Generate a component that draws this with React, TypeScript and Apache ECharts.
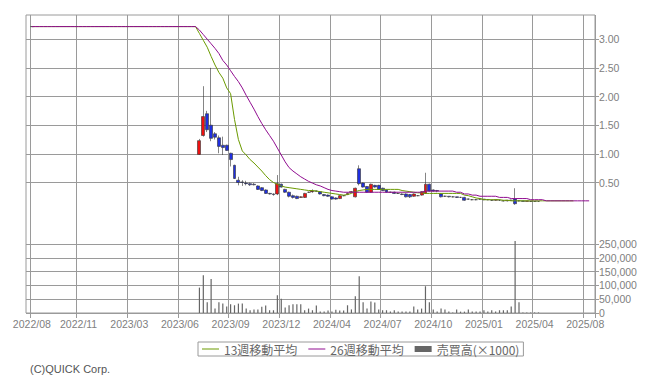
import React, { useEffect, useRef } from "react";
import * as echarts from "echarts";

// ---- data (weekly) ----
const TOTAL_WEEKS = 146;
const START_INDEX = 44; // first traded week after the flat section
const TICK_INDEX = [1, 13, 26, 39, 52, 65, 78, 91, 104, 117, 130, 143];
const TICK_LABELS = [
  "2022/08", "2022/11", "2023/03", "2023/06", "2023/09", "2023/12",
  "2024/04", "2024/07", "2024/10", "2025/01", "2025/04", "2025/08",
];

const FIRST_CANDLE_INDEX = 1;
const FIRST_CANDLE = [3.22, 3.22, 3.22, 3.22];

// [open, close, low, high], weeks 44..131
const CANDLES = [
  [0.99, 1.23, 0.98, 1.26], [1.32, 1.65, 1.30, 2.18], [1.70, 1.42, 1.38, 1.75], [1.50, 1.27, 1.22, 2.50],
  [1.35, 1.29, 1.25, 1.38], [1.28, 1.13, 1.01, 1.32], [1.15, 1.11, 0.98, 1.30], [1.15, 1.06, 1.05, 1.16],
  [1.01, 0.90, 0.78, 1.02], [0.80, 0.57, 0.56, 0.81], [0.54, 0.50, 0.45, 0.60], [0.51, 0.50, 0.44, 0.54],
  [0.49, 0.48, 0.45, 0.53], [0.48, 0.46, 0.44, 0.50], [0.47, 0.46, 0.45, 0.49], [0.44, 0.38, 0.37, 0.45],
  [0.41, 0.36, 0.35, 0.42], [0.37, 0.31, 0.30, 0.38], [0.31, 0.30, 0.29, 0.32], [0.30, 0.29, 0.27, 0.31],
  [0.30, 0.48, 0.28, 0.63], [0.47, 0.42, 0.41, 0.48], [0.38, 0.33, 0.32, 0.39], [0.33, 0.26, 0.24, 0.34],
  [0.27, 0.24, 0.22, 0.29], [0.26, 0.22, 0.21, 0.27], [0.24, 0.25, 0.23, 0.26], [0.24, 0.31, 0.23, 0.32],
  [0.33, 0.33, 0.32, 0.34], [0.34, 0.35, 0.32, 0.38], [0.35, 0.35, 0.34, 0.36], [0.34, 0.30, 0.29, 0.35],
  [0.29, 0.27, 0.26, 0.30], [0.28, 0.26, 0.25, 0.29], [0.25, 0.21, 0.20, 0.26], [0.23, 0.21, 0.20, 0.24],
  [0.22, 0.27, 0.21, 0.28], [0.27, 0.27, 0.26, 0.28], [0.29, 0.31, 0.28, 0.33], [0.33, 0.34, 0.32, 0.35],
  [0.25, 0.40, 0.24, 0.41], [0.74, 0.48, 0.45, 0.80], [0.49, 0.42, 0.41, 0.50], [0.43, 0.33, 0.32, 0.44],
  [0.33, 0.47, 0.32, 0.48], [0.45, 0.42, 0.41, 0.46], [0.45, 0.38, 0.37, 0.46], [0.40, 0.36, 0.35, 0.41],
  [0.37, 0.33, 0.32, 0.38], [0.33, 0.33, 0.32, 0.34], [0.33, 0.31, 0.30, 0.34], [0.31, 0.31, 0.30, 0.32],
  [0.30, 0.29, 0.28, 0.31], [0.30, 0.25, 0.24, 0.31], [0.29, 0.25, 0.23, 0.30], [0.26, 0.30, 0.25, 0.31],
  [0.27, 0.27, 0.26, 0.28], [0.28, 0.34, 0.27, 0.35], [0.31, 0.47, 0.30, 0.67], [0.47, 0.35, 0.34, 0.48],
  [0.37, 0.35, 0.34, 0.38], [0.36, 0.35, 0.33, 0.37], [0.30, 0.25, 0.24, 0.31], [0.26, 0.26, 0.25, 0.27],
  [0.26, 0.25, 0.24, 0.26], [0.25, 0.25, 0.24, 0.26], [0.25, 0.24, 0.23, 0.25], [0.24, 0.24, 0.23, 0.25],
  [0.24, 0.19, 0.18, 0.25], [0.21, 0.21, 0.20, 0.22], [0.20, 0.20, 0.19, 0.21], [0.20, 0.20, 0.19, 0.21],
  [0.21, 0.21, 0.20, 0.22], [0.21, 0.20, 0.19, 0.21], [0.20, 0.20, 0.19, 0.21], [0.19, 0.19, 0.18, 0.20],
  [0.19, 0.20, 0.18, 0.20], [0.19, 0.19, 0.18, 0.20], [0.18, 0.18, 0.17, 0.19], [0.18, 0.19, 0.17, 0.19],
  [0.19, 0.19, 0.18, 0.20], [0.21, 0.13, 0.11, 0.40], [0.18, 0.18, 0.17, 0.19], [0.18, 0.17, 0.17, 0.18],
  [0.17, 0.18, 0.17, 0.18], [0.17, 0.17, 0.16, 0.18], [0.17, 0.17, 0.16, 0.17], [0.17, 0.17, 0.16, 0.17],
];

// volume (x1000), weeks 44..131
const VOLUME = [
  92000, 137000, 39000, 123000, 16000, 39000, 34000, 24000, 32000, 28000,
  34000, 34000, 16000, 10000, 13000, 13000, 23000, 27000, 10000, 10000,
  64000, 52000, 20000, 28000, 32000, 32000, 32000, 10000, 16000, 10000,
  27000, 5000, 5000, 9000, 5000, 12000, 9000, 9000, 28000, 13000,
  61000, 133000, 39000, 16000, 42000, 38000, 13000, 10000, 10000, 5000,
  10000, 5000, 5000, 5000, 5000, 24000, 13000, 16000, 97000, 39000,
  13000, 5000, 16000, 13000, 5000, 2000, 13000, 5000, 5000, 13000,
  5000, 5000, 5000, 10000, 5000, 10000, 5000, 10000, 10000, 10000,
  24000, 261000, 39000, 2000, 2000, 2000, 2000, 2000,
];

// 13-week moving average, weeks 0..140
const MA13 = [
  null,
  3.22, 3.22, 3.22, 3.22, 3.22, 3.22, 3.22, 3.22, 3.22, 3.22,
  3.22, 3.22, 3.22, 3.22, 3.22, 3.22, 3.22, 3.22, 3.22, 3.22,
  3.22, 3.22, 3.22, 3.22, 3.22, 3.22, 3.22, 3.22, 3.22, 3.22,
  3.22, 3.22, 3.22, 3.22, 3.22, 3.22, 3.22, 3.22, 3.22, 3.22,
  3.22, 3.22, 3.22,
  3.10, 2.98, 2.86, 2.70, 2.55, 2.42, 2.32, 2.15, 2.05, 1.60,
  1.25, 1.05, 0.98, 0.90, 0.84, 0.77, 0.70, 0.62, 0.55, 0.50,
  0.47, 0.44, 0.42, 0.41, 0.40, 0.39, 0.38, 0.37, 0.36, 0.36,
  0.35, 0.34, 0.33, 0.32, 0.31, 0.30, 0.29, 0.28, 0.29, 0.31,
  0.34, 0.36, 0.37, 0.38, 0.38, 0.38, 0.38, 0.38, 0.38, 0.38,
  0.38, 0.38, 0.36, 0.35, 0.34, 0.33, 0.32, 0.32, 0.31, 0.31,
  0.31, 0.31, 0.31, 0.31, 0.31, 0.31, 0.31, 0.31, 0.28, 0.27,
  0.25, 0.23, 0.22, 0.20, 0.20, 0.20, 0.20, 0.20, 0.19, 0.19,
  0.18, 0.18, 0.18, 0.18, 0.18, 0.18, 0.18, 0.18, 0.18, 0.18,
  0.18, 0.18, 0.18, 0.18, 0.18, 0.18, 0.18,
];

// 26-week moving average, weeks 0..144
const MA26 = [
  null,
  3.22, 3.22, 3.22, 3.22, 3.22, 3.22, 3.22, 3.22, 3.22, 3.22,
  3.22, 3.22, 3.22, 3.22, 3.22, 3.22, 3.22, 3.22, 3.22, 3.22,
  3.22, 3.22, 3.22, 3.22, 3.22, 3.22, 3.22, 3.22, 3.22, 3.22,
  3.22, 3.22, 3.22, 3.22, 3.22, 3.22, 3.22, 3.22, 3.22, 3.22,
  3.22, 3.22, 3.22,
  3.16, 3.08, 3.00, 2.92, 2.84, 2.75, 2.63, 2.55, 2.45, 2.35,
  2.26, 2.15, 2.02, 1.90, 1.78, 1.65, 1.53, 1.42, 1.32, 1.22,
  1.10, 0.98, 0.86, 0.76, 0.70, 0.65, 0.60, 0.56, 0.52, 0.49,
  0.46, 0.44, 0.41, 0.38, 0.36, 0.35, 0.34,
  0.33, 0.33, 0.33, 0.33, 0.33, 0.33, 0.33, 0.33, 0.33, 0.33,
  0.33, 0.33, 0.33, 0.33, 0.33, 0.33, 0.33, 0.33, 0.33, 0.33, 0.33,
  0.35, 0.35, 0.35, 0.35, 0.35, 0.35, 0.35, 0.35,
  0.33, 0.33, 0.30, 0.30, 0.28, 0.28,
  0.26, 0.26, 0.26, 0.26, 0.26, 0.24, 0.24, 0.24,
  0.22, 0.22, 0.22, 0.22, 0.22, 0.20, 0.20, 0.20, 0.20,
  0.18, 0.18, 0.18, 0.18, 0.18, 0.18, 0.18, 0.18, 0.18, 0.18, 0.18, 0.18,
];

const NAME_MA13 = "13週移動平均";
const NAME_MA26 = "26週移動平均";
const NAME_VOL = "売買高(×1000)";

const CATEGORIES = Array.from({ length: TOTAL_WEEKS }, (_, i) => {
  const d = new Date(Date.UTC(2022, 6, 25 + 7 * i));
  return `${d.getUTCFullYear()}/${String(d.getUTCMonth() + 1).padStart(2, "0")}/${String(d.getUTCDate()).padStart(2, "0")}`;
});

const GRID_COLOR = "#9a9a9a";
const LABEL_COLOR = "#808080";
const AXIS_FONT = "Liberation Sans";
const COLOR_MA13 = "#6b9a00";
const COLOR_MA26 = "#900c90";
// thin horizontal line icon inside a 17x6 legend box
const LINE_ICON = "path://M0,0M0,2.5L17,2.5L17,3.5L0,3.5ZM17,6";

function App() {
  const ref = useRef<HTMLDivElement>(null);

  useEffect(() => {
    if (!ref.current) return;
    const chart = echarts.init(ref.current, undefined, { renderer: "svg" });

    const candleData = CATEGORIES.map((_, i) => {
      if (i === FIRST_CANDLE_INDEX) return FIRST_CANDLE;
      const k = i - START_INDEX;
      return k >= 0 && k < CANDLES.length ? CANDLES[k] : "-";
    });
    const volumeData = CATEGORIES.map((_, i) => {
      const k = i - START_INDEX;
      return k >= 0 && k < VOLUME.length ? VOLUME[k] : "-";
    });
    const isTick = (i: number) => TICK_INDEX.indexOf(i) >= 0;

    const hiddenX = (gridIndex: number) => ({
      type: "category",
      gridIndex,
      data: CATEGORIES,
      boundaryGap: true,
      show: false,
    });

    const option: any = {
      animation: false,
      backgroundColor: "#ffffff",
      title: {
        text: "(C)QUICK Corp.",
        left: 30,
        top: 363,
        padding: 0,
        textStyle: { fontSize: 11, fontWeight: "normal", color: "#555", fontFamily: AXIS_FONT },
      },
      legend: {
        left: 198,
        top: 342,
        padding: [1, 4, 1, 4],
        borderColor: GRID_COLOR,
        borderWidth: 1,
        itemGap: 11,
        itemWidth: 17,
        itemHeight: 6,
        selectedMode: false,
        textStyle: { fontSize: 12, color: "#666", fontFamily: "Noto Sans CJK JP" },
        data: [
          { name: NAME_MA13, icon: LINE_ICON, itemStyle: { color: COLOR_MA13 } },
          { name: NAME_MA26, icon: LINE_ICON, itemStyle: { color: COLOR_MA26 } },
          { name: NAME_VOL, icon: "rect" },
        ],
      },
      grid: [
        { left: 26, top: 15, width: 569, height: 167.5, show: false },
        { left: 26, top: 244, width: 569, height: 69, show: false },
        { left: 26, top: 15, width: 569, height: 298, show: true, borderColor: GRID_COLOR, borderWidth: 1, backgroundColor: "transparent" },
      ],
      xAxis: [
        hiddenX(0),
        hiddenX(1),
        {
          type: "category",
          gridIndex: 2,
          data: CATEGORIES,
          boundaryGap: true,
          position: "bottom",
          axisLine: { show: false },
          axisTick: { show: true, interval: (i: number) => isTick(i), length: 5, lineStyle: { color: GRID_COLOR } },
          axisLabel: {
            interval: (i: number) => isTick(i),
            formatter: (_v: string, i: number) => TICK_LABELS[TICK_INDEX.indexOf(i)] ?? "",
            color: LABEL_COLOR,
            fontSize: 10.5,
            lineHeight: 10,
            fontFamily: AXIS_FONT,
            margin: 6,
          },
          splitLine: { show: true, interval: (i: number) => isTick(i), lineStyle: { color: GRID_COLOR, width: 1 } },
        },
      ],
      yAxis: [
        {
          type: "value",
          gridIndex: 0,
          position: "right",
          min: 0.5,
          max: 3.422,
          interval: 0.5,
          axisLine: { show: false },
          axisTick: { show: true, length: 4, lineStyle: { color: GRID_COLOR } },
          axisLabel: {
            color: LABEL_COLOR,
            fontSize: 10.5,
            lineHeight: 10,
            fontFamily: AXIS_FONT,
            margin: 4,
            showMaxLabel: false,
            formatter: (v: number) => (v > 3.01 ? "" : v.toFixed(2)),
          },
          splitLine: { show: true, showMaxLine: false, lineStyle: { color: GRID_COLOR, width: 1 } },
        },
        {
          type: "value",
          gridIndex: 1,
          position: "right",
          min: 0,
          max: 250000,
          interval: 50000,
          axisLine: { show: false },
          axisTick: { show: true, length: 4, lineStyle: { color: GRID_COLOR } },
          axisLabel: {
            color: LABEL_COLOR,
            fontSize: 10.5,
            lineHeight: 10,
            fontFamily: AXIS_FONT,
            margin: 4,
            formatter: (v: number) => String(Math.round(v)).replace(/\B(?=(\d{3})+(?!\d))/g, ","),
          },
          splitLine: { show: true, lineStyle: { color: GRID_COLOR, width: 1 } },
        },
        { type: "value", gridIndex: 2, show: false, min: 0, max: 1 },
      ],
      series: [
        {
          type: "candlestick",
          name: "株価",
          xAxisIndex: 0,
          yAxisIndex: 0,
          data: candleData,
          barWidth: 3.4,
          clip: false,
          itemStyle: {
            color: "#ee1111",
            color0: "#1f2fe0",
            borderColor: "#333333",
            borderColor0: "#333333",
            borderWidth: 0.6,
          },
          z: 3,
        },
        {
          type: "line",
          name: NAME_MA13,
          xAxisIndex: 0,
          yAxisIndex: 0,
          data: MA13,
          symbol: "none",
          clip: false,
          lineStyle: { color: COLOR_MA13, width: 1 },
          itemStyle: { color: COLOR_MA13 },
          z: 4,
        },
        {
          type: "line",
          name: NAME_MA26,
          xAxisIndex: 0,
          yAxisIndex: 0,
          data: MA26,
          symbol: "none",
          clip: false,
          lineStyle: { color: COLOR_MA26, width: 1 },
          itemStyle: { color: COLOR_MA26 },
          z: 4,
        },
        {
          type: "bar",
          name: NAME_VOL,
          xAxisIndex: 1,
          yAxisIndex: 1,
          data: volumeData,
          barWidth: 1.2,
          clip: false,
          itemStyle: { color: "#666666" },
        },
      ],
    };

    chart.setOption(option);
    return () => chart.dispose();
  }, []);

  return (
    <div
      ref={ref}
      style={{ position: "fixed", left: 0, top: 0, width: 655, height: 380, background: "#fff" }}
    />
  );
}

export default App;
